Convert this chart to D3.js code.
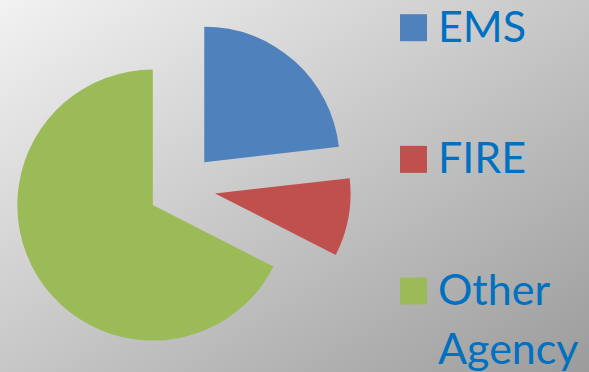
<!DOCTYPE html>
<html>
<head>
<meta charset="utf-8">
<script src="https://cdn.jsdelivr.net/npm/d3@7"></script>
<style>
  html, body { margin: 0; padding: 0; background: #fff; }
  svg { display: block; }
</style>
</head>
<body>
<div id="chart"></div>
<script>
// Share of calls by responding agency
const categories = ["EMS", "FIRE", "Other Agency"];
const values = [23.2, 9.3, 67.5];
const sliceColors = ["#4F81BD", "#C0504D", "#9BBB59"];
const legendLines = [["EMS"], ["FIRE"], ["Other", "Agency"]];

const width = 589, height = 372;
const cx = 181.7, cy = 187.4, radius = 135.5;
const explode = 0.25 * radius;

const svg = d3.select("#chart").append("svg")
  .attr("width", width).attr("height", height);

// diagonal grey backdrop
const defs = svg.append("defs");
const grad = defs.append("linearGradient")
  .attr("id", "bg").attr("x1", 0).attr("y1", 0).attr("x2", 1).attr("y2", 1);
grad.append("stop").attr("offset", "0%").attr("stop-color", "#f2f2f2");
grad.append("stop").attr("offset", "100%").attr("stop-color", "#9c9c9c");
svg.append("rect").attr("width", width).attr("height", height).attr("fill", "url(#bg)");

const color = d3.scaleOrdinal().domain(categories).range(sliceColors);

const pie = d3.pie().sort(null).value(d => d.value);
const arcs = pie(categories.map((c, i) => ({ name: c, value: values[i] })));
const arc = d3.arc().innerRadius(0).outerRadius(radius);

// every slice pulled out along its bisector
const g = svg.append("g").attr("transform", `translate(${cx},${cy})`);
g.selectAll("path").data(arcs).join("path")
  .attr("d", arc)
  .attr("fill", d => color(d.data.name))
  .attr("transform", d => {
    const mid = (d.startAngle + d.endAngle) / 2;
    return `translate(${explode * Math.sin(mid)},${-explode * Math.cos(mid)})`;
  });

// legend
const legendY = d3.scalePoint().domain(categories).range([41.7, 305]);
const leg = svg.append("g");
categories.forEach((c, i) => {
  const base = legendY(c);
  leg.append("rect")
    .attr("x", 400).attr("y", base - 27.5).attr("width", 27).attr("height", 27)
    .attr("fill", color(c));
  const t = leg.append("text")
    .attr("x", 438).attr("y", base)
    .attr("font-family", "Lato, 'Open Sans', sans-serif")
    .attr("font-size", 43)
    .attr("fill", "#0070C0");
  legendLines[i].forEach((line, j) => {
    t.append("tspan").attr("x", 438).attr("y", base + j * 59).text(line);
  });
});
</script>
</body>
</html>
